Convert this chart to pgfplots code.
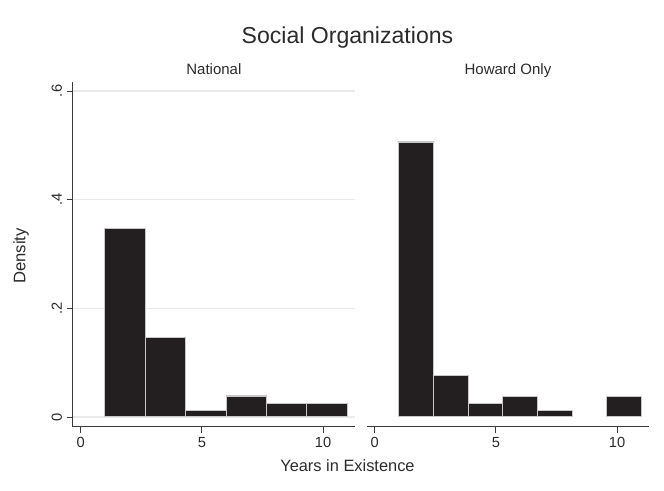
\documentclass[border=0pt]{standalone}
\usepackage{fontspec}
\setmainfont{Liberation Sans}
\usepackage{pgfplots}
\pgfplotsset{compat=1.18}
\definecolor{barfill}{HTML}{231F20}
\definecolor{baredge}{HTML}{C8C8C8}
\definecolor{gridc}{HTML}{EAEAEA}
\definecolor{axisc}{HTML}{3A3A3A}
\definecolor{textc}{HTML}{2B2B2B}

\pgfplotsset{
  panel/.style={
    scale only axis,
    anchor=south west,
    width=212pt, height=258.75pt,
    xmin=-0.33, xmax=11.33,
    ymin=-0.018, ymax=0.617,
    xtick={0,5,10},
    ytick={0,0.2,0.4,0.6},
    yticklabels={0,.2,.4,.6},
    ymajorgrids,
    major grid style={gridc, line width=0.9pt},
    axis line style={axisc, line width=0.6pt},
    tick style={axisc, line width=0.6pt},
    tick align=outside,
    major tick length=4.5pt,
    xtick pos=bottom, ytick pos=left,
    ticklabel style={font=\fontsize{11}{13}\selectfont, text=textc},
    /pgf/number format/assume math mode=true,
    clip=false,
  },
  hbar/.style={ybar interval, fill=barfill, draw=baredge, line width=0.8pt},
}

\begin{document}
\begin{tikzpicture}
\path[use as bounding box] (0,0) rectangle (498pt,368.25pt);

% National
\begin{axis}[panel, at={(54.5pt,48.2pt)},
  axis x line*=bottom, axis y line*=left,
  yticklabel style={rotate=90, anchor=south}]
\addplot[hbar] coordinates {
(1.0000,0.346) (2.6667,0.146) (4.3333,0.0115) (6.0000,0.0385)
(7.6667,0.025) (9.3333,0.025) (11.0000,0.025)};
\end{axis}

% Howard Only
\begin{axis}[panel, at={(275pt,48.2pt)},
  axis x line*=bottom, axis y line=none, ymajorgrids,
  yticklabels={}]
\addplot[hbar] coordinates {
(1.0000,0.506) (2.4286,0.077) (3.8571,0.0245) (5.2857,0.038)
(6.7143,0.0123) (8.1429,0.0123)};
\addplot[hbar] coordinates {
(9.5714,0.038) (11.0000,0.038)};
\end{axis}

\node[text=textc, font=\fontsize{17.3}{20}\selectfont] at (260.6pt,340.3pt) {Social Organizations};
\node[text=textc, font=\fontsize{11.25}{13}\selectfont, anchor=base] at (160.4pt,312pt) {National};
\node[text=textc, font=\fontsize{11.25}{13}\selectfont, anchor=base] at (381pt,312pt) {Howard Only};
\node[text=textc, font=\fontsize{12.3}{14}\selectfont] at (260.6pt,19pt) {Years in Existence};
\node[text=textc, font=\fontsize{12.5}{14}\selectfont, rotate=90] at (15.75pt,176.25pt) {Density};
\end{tikzpicture}
\end{document}
